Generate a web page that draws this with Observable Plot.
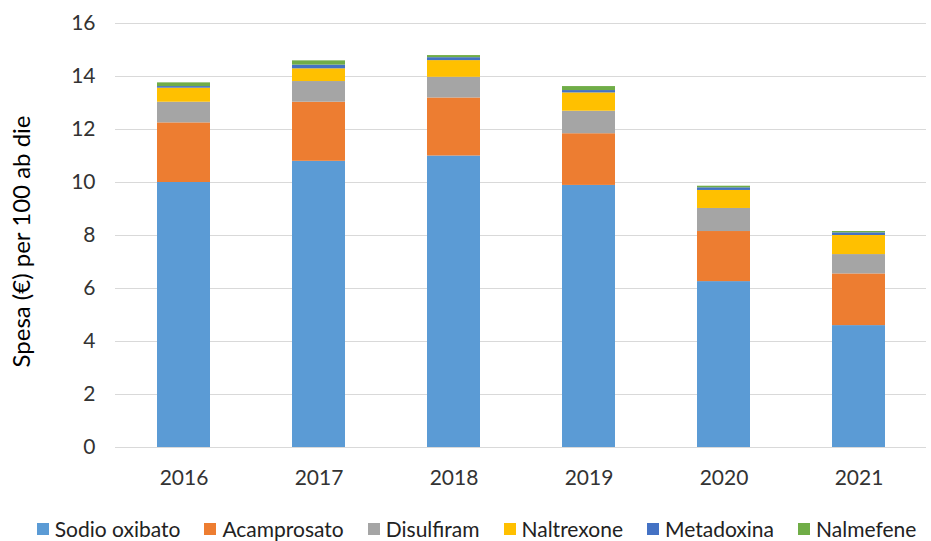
<!DOCTYPE html>
<html>
<head>
<meta charset="utf-8">
<script src="https://cdn.jsdelivr.net/npm/d3@7"></script>
<script src="https://cdn.jsdelivr.net/npm/@observablehq/plot@0.6"></script>
<style>
  body { margin: 0; background: #fff; font-family: Lato, "Liberation Sans", sans-serif; }
  #legend { display: flex; justify-content: center; gap: 24px; font-size: 21px; color: #222; margin-top: 11px; margin-left: 22px; }
  #legend span.item { display: inline-flex; align-items: center; gap: 6px; }
  #legend span.sw { width: 12px; height: 12px; display: inline-block; }
</style>
</head>
<body>
<div id="chart"></div>
<div id="legend"></div>
<script>
const years = ["2016", "2017", "2018", "2019", "2020", "2021"];
const series = ["Sodio oxibato", "Acamprosato", "Disulfiram", "Naltrexone", "Metadoxina", "Nalmefene"];
const colors = ["#5B9BD5", "#ED7D31", "#A5A5A5", "#FFC000", "#4472C4", "#70AD47"];
const sodioOxibato = [10.0, 10.8, 11.0, 9.89, 6.26, 4.6];
const acamprosato  = [2.25, 2.23, 2.19, 1.95, 1.89, 1.95];
const disulfiram   = [0.78, 0.78, 0.78, 0.85, 0.87, 0.73];
const naltrexone   = [0.53, 0.48, 0.63, 0.69, 0.68, 0.72];
const metadoxina   = [0.06, 0.14, 0.11, 0.09, 0.10, 0.10];
const nalmefene    = [0.14, 0.16, 0.08, 0.15, 0.06, 0.05];
const yTicks = [0, 2, 4, 6, 8, 10, 12, 14, 16];

const values = [sodioOxibato, acamprosato, disulfiram, naltrexone, metadoxina, nalmefene];
const data = [];
series.forEach((s, i) => years.forEach((y, j) => data.push({year: y, series: s, value: values[i][j]})));

const chart = Plot.plot({
  width: 931,
  height: 505,
  marginTop: 23,
  marginBottom: 58,
  marginLeft: 115,
  marginRight: 5,
  style: {fontFamily: "Lato, 'Liberation Sans', sans-serif", fontSize: "20px", color: "#333"},
  x: {domain: years, paddingInner: 0.61, paddingOuter: 0.305, label: null, tickSize: 0, tickPadding: 24},
  y: {domain: [0, 16], ticks: yTicks, label: null, tickSize: 0, tickPadding: 20, tickFormat: d => d},
  color: {domain: series, range: colors},
  marks: [
    Plot.gridY(yTicks, {stroke: "#d9d9d9", strokeOpacity: 1, strokeWidth: 1}),
    Plot.barY(data, {x: "year", y: "value", fill: "series", order: series}),
    Plot.axisY({ticks: yTicks, tickSize: 0, tickPadding: 20, tickFormat: d => d, label: null, fontSize: 21}),
    Plot.axisX({tickSize: 0, tickPadding: 23, label: null, fontSize: 21}),
    Plot.text(["Spesa (€) per 100 ab die"], {frameAnchor: "left", textAnchor: "middle", dx: -93, dy: 6, rotate: -90, fontSize: 24, fill: "#000"})
  ]
});
document.getElementById("chart").appendChild(chart);

const legend = document.getElementById("legend");
series.forEach((s, i) => {
  const it = document.createElement("span");
  it.className = "item";
  it.innerHTML = `<span class="sw" style="background:${colors[i]}"></span>${s}`;
  legend.appendChild(it);
});
</script>
</body>
</html>
